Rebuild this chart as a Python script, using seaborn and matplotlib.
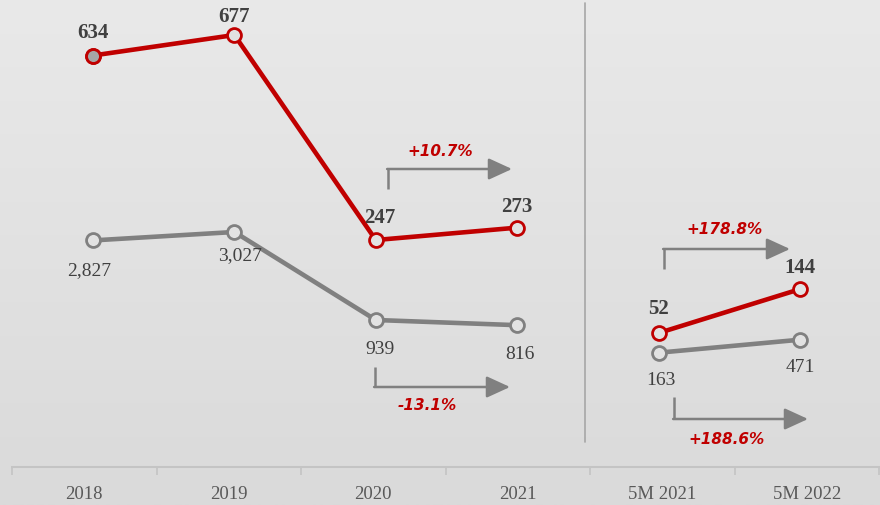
import numpy as np
import pandas as pd
import matplotlib
matplotlib.use("Agg")
import matplotlib.pyplot as plt
import seaborn as sns
from matplotlib.colors import LinearSegmentedColormap

categories = ["2018", "2019", "2020", "2021", "5M 2021", "5M 2022"]
red_values = [634, 677, 247, 273, 52, 144]
grey_values = [2827, 3027, 939, 816, 163, 471]
segments = ["annual", "annual", "annual", "annual", "ytd", "ytd"]
change_labels = ["+10.7%", "-13.1%", "+178.8%", "+188.6%"]

sns.set_theme(style="white")
plt.rcParams["font.family"] = ["Liberation Serif", "DejaVu Serif"]

RED = "#c00000"
GREY = "#808080"
BG = "#e2e2e2"
TXT = "#404040"

W, H = 880, 506
fig = plt.figure(figsize=(W / 100, H / 100), dpi=100)

# gradient background
bg = fig.add_axes([0, 0, 1, 1], zorder=-5)
grad = np.linspace(0, 1, 256).reshape(-1, 1)
cmap = LinearSegmentedColormap.from_list("g", ["#e9e9e9", "#dadada"])
bg.imshow(grad, aspect="auto", cmap=cmap, extent=[0, 1, 0, 1], origin="upper")
bg.axis("off")

AX_L, AX_R, AX_B = 12, 879, 468
rect = [AX_L / W, (H - AX_B) / H, (AX_R - AX_L) / W, AX_B / H]

# category axis (ticks and labels)
ax = fig.add_axes(rect)
ax.set_facecolor("none")
# data axes (grey on left scale, red on twin scale)
axg = fig.add_axes(rect, zorder=2)
axg.set_facecolor("none")
axr = axg.twinx()

df = pd.DataFrame({
    "pos": np.arange(len(categories)),
    "category": categories,
    "red": red_values,
    "grey": grey_values,
    "segment": segments,
})

sns.lineplot(data=df, x="pos", y="grey", units="segment", estimator=None, ax=axg,
             color=GREY, lw=3.3, marker="o", markersize=10, markerfacecolor=BG,
             markeredgecolor=GREY, markeredgewidth=2.0, legend=False)
sns.lineplot(data=df, x="pos", y="red", units="segment", estimator=None, ax=axr,
             color=RED, lw=3.3, marker="o", markersize=10, markerfacecolor=BG,
             markeredgecolor=RED, markeredgewidth=2.0, legend=False)
axr.plot(df["pos"].iloc[:1], df["red"].iloc[:1], "o", markersize=10,
         markerfacecolor="#a6a6a6", markeredgecolor=RED, markeredgewidth=2.0)

ax.set_xlim(-0.5, len(categories) - 0.5)
axg.set_xlim(-0.573, 5.559)
axg.set_ylim(-2549, 8555)
axr.set_ylim(-229, 752.5)
ax.set_ylim(0, 1)

for a in (ax, axg, axr):
    a.set_ylabel("")
    a.set_xlabel("")
    a.set_yticks([])
    for s in ("top", "left", "right"):
        a.spines[s].set_visible(False)
for a in (axg, axr):
    a.spines["bottom"].set_visible(False)
    a.set_xticks([])
ax.spines["bottom"].set_color("#c4c4c4")
ax.spines["bottom"].set_linewidth(1.5)

ax.set_xticks(df["pos"])
ax.set_xticklabels(categories, fontsize=13.5, color="#595959")
ax.set_xticks(np.arange(len(categories) + 1) - 0.5, minor=True)
ax.tick_params(axis="x", which="major", length=0, pad=13)
ax.tick_params(axis="x", which="minor", bottom=True, length=6, width=1.2,
               color="#c4c4c4", direction="out")

# value labels (offsets in pixels)
px = 72 / 100
red_off = [(0, 24), (0, 19), (4, 23), (0, 22), (0, 25), (0, 22)]
grey_off = [(-4, -29), (6, -23), (4, -29), (3, -28), (2, -27), (0, -27)]
for i, v in enumerate(red_values):
    axr.annotate(f"{v:,}", (i, v), xytext=(red_off[i][0] * px, red_off[i][1] * px),
                 textcoords="offset points", ha="center", va="center",
                 fontsize=15, fontweight="bold", color=TXT)
for i, v in enumerate(grey_values):
    axg.annotate(f"{v:,}", (i, v), xytext=(grey_off[i][0] * px, grey_off[i][1] * px),
                 textcoords="offset points", ha="center", va="center",
                 fontsize=14, color=TXT)

# separator
sep_x = (585 - AX_L) / ((AX_R - AX_L) / len(categories)) - 0.5
ax.axvline(sep_x, ymin=(AX_B - 443) / AX_B, ymax=(AX_B - 4) / AX_B, color="#a6a6a6", lw=1.2)

def to_ax(x, y):
    return ((x - AX_L) / (AX_R - AX_L), (AX_B - y) / AX_B)

def elbow(x0, y0, yc, x1, label, tx, ty):
    p0, pc, p1 = to_ax(x0, y0), to_ax(x0, yc), to_ax(x1, yc)
    axr.plot([p0[0], pc[0]], [p0[1], pc[1]], transform=axr.transAxes, color=GREY, lw=1.8,
             solid_capstyle="butt", clip_on=False)
    axr.annotate("", xy=p1, xytext=(pc[0] - 0.001, pc[1]), xycoords="axes fraction",
                 textcoords="axes fraction",
                 arrowprops=dict(arrowstyle="-|>,head_length=1.2,head_width=0.55",
                                 mutation_scale=12, color=GREY, lw=1.8,
                                 shrinkA=0, shrinkB=0))
    t = to_ax(tx, ty)
    axr.text(t[0], t[1], label, transform=axr.transAxes, ha="center", va="center",
             fontsize=11, fontweight="bold", fontstyle="italic", color=RED,
             family="DejaVu Sans")

elbow(388, 190, 170, 512, change_labels[0], 440, 152)
elbow(375, 368, 388, 510, change_labels[1], 427, 406)
elbow(664, 270, 250, 790, change_labels[2], 725, 230)
elbow(674, 398, 420, 808, change_labels[3], 727, 440)

fig.savefig("out.png", dpi=100)
